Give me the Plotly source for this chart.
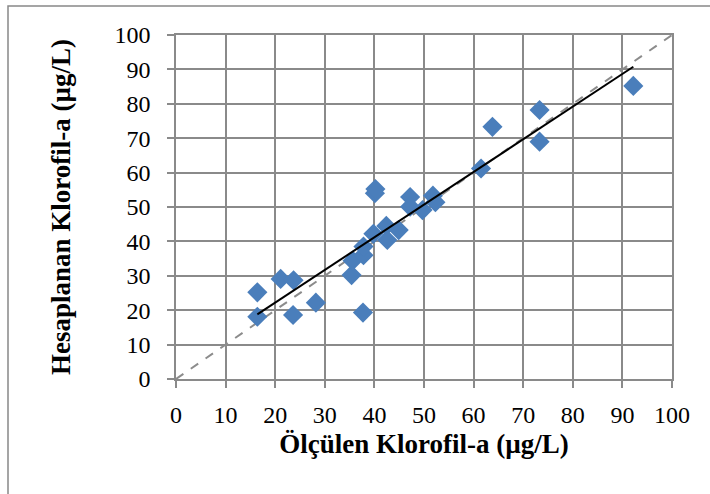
import numpy as np
import plotly.graph_objects as go

# Measured (x) vs calculated (y) chlorophyll-a, µg/L
measured = [16.4, 16.4, 21.1, 23.7, 23.6, 28.2, 37.7, 35.4, 35.6, 37.8, 37.8,
            39.8, 42.4, 42.6, 44.9, 40.1, 40.2, 47.2, 47.2, 49.7, 51.8, 52.3,
            61.5, 63.8, 73.3, 73.3, 92.2]
calculated = [25.2, 18.1, 29.1, 28.7, 18.6, 22.2, 19.3, 30.2, 34.4, 36.0, 38.5,
              42.2, 44.5, 40.4, 43.3, 54.0, 55.2, 52.9, 50.1, 49.1, 53.3, 51.4,
              61.2, 73.3, 78.2, 69.0, 85.2]

ticks = list(range(0, 101, 10))
one_to_one = [0, 100]

x = np.array(measured)
y = np.array(calculated)
slope, intercept = np.polyfit(x, y, 1)
fit_x = np.array([x.min(), x.max()])
fit_y = slope * fit_x + intercept

fig = go.Figure()
fig.add_trace(go.Scatter(x=one_to_one, y=one_to_one, mode="lines",
                         line=dict(color="#8c8c8c", width=2, dash="dash"),
                         showlegend=False, hoverinfo="skip"))
fig.add_trace(go.Scatter(x=measured, y=calculated, mode="markers",
                         marker=dict(symbol="diamond", size=15.5, color="#4a7ebb",
                                     line=dict(width=0)),
                         showlegend=False))
fig.add_trace(go.Scatter(x=fit_x, y=fit_y, mode="lines",
                         line=dict(color="black", width=2),
                         showlegend=False, hoverinfo="skip"))

serif = "Liberation Serif, Times New Roman, serif"
grid = "#8a8a8a"
tickfont = dict(family=serif, size=24, color="black")
titlefont = dict(family=serif, size=27, color="black", weight="bold")

fig.update_xaxes(range=[0, 100], tickvals=ticks, ticktext=[str(t) for t in ticks],
                 showgrid=True, gridcolor=grid, gridwidth=1.5,
                 showline=True, linecolor=grid, linewidth=1.5, mirror=True,
                 zeroline=False, ticks="outside", ticklen=7, tickcolor=grid,
                 tickwidth=1.5, tickfont=tickfont, ticklabelstandoff=6,
                 title=dict(text="Ölçülen Klorofil-a (µg/L)", font=titlefont, standoff=8))
fig.update_yaxes(range=[0, 100], tickvals=ticks, ticktext=[str(t) for t in ticks],
                 showgrid=True, gridcolor=grid, gridwidth=1.5,
                 showline=True, linecolor=grid, linewidth=1.5, mirror=True,
                 zeroline=False, ticks="outside", ticklen=7, tickcolor=grid,
                 tickwidth=1.5, tickfont=tickfont, ticklabelstandoff=12,
                 title=dict(text="Hesaplanan Klorofil-a (µg/L)", font=titlefont, standoff=36))

L, R, T, B = 176, 38, 35, 115
pw, ph = 710 - L - R, 494 - T - B
fig.add_shape(type="rect", xref="paper", yref="paper",
              x0=(8 - L) / pw, x1=(720 - L) / pw,
              y0=(T + ph - 504) / ph, y1=(T + ph - 6) / ph,
              line=dict(color="#888888", width=1.5), layer="below")

fig.update_layout(width=710, height=494, margin=dict(l=L, r=R, t=T, b=B),
                  plot_bgcolor="white", paper_bgcolor="white",
                  font=dict(family=serif, color="black"))
fig.write_html("out.html")
